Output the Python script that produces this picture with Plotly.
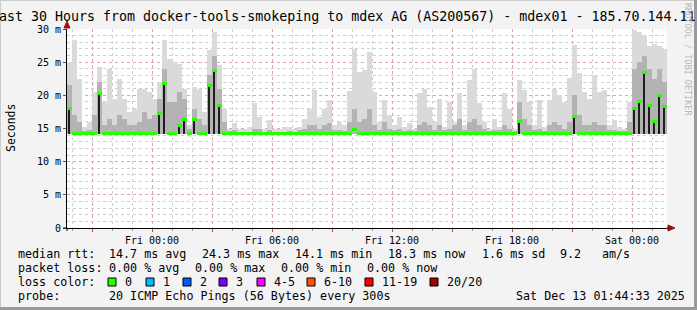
import plotly.graph_objects as go
import pandas as pd

# ---------------- data ----------------
T_START = "2025-12-11 19:45"
T_END = "2025-12-13 01:45"
STEP = "15min"
MIN_RTT = 14.1  # ms, "14.1 ms min"

median_ms = [
    18.0, 14.3, 14.3, 14.3, 14.3, 14.3, 20.2, 14.3, 14.3, 14.3,
    14.3, 14.3, 14.2, 14.2, 14.3, 14.3, 14.3, 14.3, 17.3, 21.8,
    14.3, 14.3, 15.4, 16.3, 14.3, 16.3, 14.3, 14.3, 21.5, 23.8,
    18.5, 14.3, 14.3, 14.3, 14.3, 14.2, 14.2, 14.3, 14.3, 14.2,
    14.3, 14.3, 14.2, 14.3, 14.3, 14.3, 14.3, 14.3, 14.3, 14.3,
    14.3, 14.3, 14.3, 14.3, 14.3, 14.3, 14.3, 14.8, 14.3, 14.3,
    14.3, 14.3, 14.3, 14.3, 14.3, 14.3, 14.3, 14.3, 14.3, 14.3,
    14.3, 14.3, 14.3, 14.3, 14.3, 14.3, 14.3, 14.3, 14.3, 14.3,
    14.3, 14.3, 14.3, 14.3, 14.3, 14.3, 14.3, 14.3, 14.3, 14.3,
    16.0, 14.3, 14.3, 14.3, 14.3, 14.3, 14.3, 14.3, 14.3, 14.3,
    14.3, 16.8, 14.3, 14.3, 14.3, 14.3, 14.3, 14.3, 14.3, 14.3,
    14.3, 14.3, 14.3, 18.0, 19.0, 23.5, 18.5, 16.0, 20.0, 18.3,
]
smoke_mid_ms = [
    21.5, 17.0, 16.0, 14.6, 14.8, 17.0, 22.0, 15.5, 16.5, 15.5,
    17.0, 16.5, 15.5, 15.5, 16.0, 17.5, 16.5, 17.0, 19.5, 24.0,
    19.0, 19.0, 20.5, 19.5, 15.0, 18.0, 16.5, 15.5, 23.0, 26.0,
    21.0, 16.0, 14.6, 14.8, 14.5, 14.5, 14.5, 15.0, 15.0, 14.5,
    14.8, 14.5, 14.5, 14.5, 14.6, 14.5, 14.8, 15.0, 15.5, 15.5,
    15.0, 15.5, 15.8, 14.8, 14.8, 14.6, 16.0, 18.0, 16.0, 16.5,
    18.0, 15.5, 14.8, 16.0, 15.0, 14.8, 15.0, 14.6, 14.8, 14.6,
    15.5, 16.0, 15.5, 14.8, 15.5, 14.8, 15.0, 15.5, 16.5, 14.8,
    16.0, 16.5, 15.5, 15.0, 14.6, 14.8, 14.8, 15.5, 15.0, 14.6,
    19.0, 16.5, 15.5, 14.8, 15.0, 14.6, 15.5, 16.0, 15.5, 15.0,
    16.0, 20.0, 17.0, 15.5, 15.5, 16.0, 15.5, 15.5, 14.8, 14.8,
    14.6, 14.6, 16.0, 24.0, 25.0, 26.0, 24.0, 22.5, 24.0, 22.0,
]
smoke_max_ms = [
    25.0, 28.3, 22.5, 15.2, 16.0, 20.5, 24.2, 19.0, 24.0, 19.5,
    22.5, 19.5, 17.5, 18.0, 21.0, 21.0, 20.5, 19.5, 22.0, 28.3,
    25.5, 25.0, 24.7, 21.0, 15.5, 21.3, 21.0, 17.5, 26.8, 29.5,
    24.5, 18.0, 15.0, 15.8, 14.9, 15.0, 15.2, 18.8, 16.8, 15.0,
    16.3, 15.0, 15.0, 15.2, 15.3, 15.0, 15.3, 16.5, 18.0, 20.8,
    16.8, 18.0, 19.3, 15.5, 16.0, 15.5, 20.6, 27.0, 23.5, 23.8,
    26.6, 20.5, 16.0, 19.3, 17.0, 15.5, 16.8, 15.3, 15.8, 15.0,
    20.3, 21.0, 18.3, 16.0, 19.5, 15.3, 19.0, 16.0, 20.3, 15.5,
    22.3, 24.0, 18.8, 16.0, 15.0, 16.5, 15.3, 20.3, 18.0, 15.0,
    22.3, 20.8, 19.0, 15.5, 19.3, 15.3, 19.3, 21.0, 20.0, 19.0,
    22.6, 27.6, 23.3, 20.5, 19.5, 23.0, 20.5, 20.8, 15.5, 16.3,
    15.3, 15.0, 19.0, 29.8, 29.5, 29.0, 27.5, 27.8, 27.5, 27.0,
]

y_tickvals = [0, 5, 10, 15, 20, 25, 30]
y_ticktext = ["0", "5 m", "10 m", "15 m", "20 m", "25 m", "30 m"]
x_tickvals = ["2025-12-11 21:00", "2025-12-12 00:00", "2025-12-12 03:00",
              "2025-12-12 06:00", "2025-12-12 09:00", "2025-12-12 12:00",
              "2025-12-12 15:00", "2025-12-12 18:00", "2025-12-12 21:00",
              "2025-12-13 00:00"]
x_ticktext = ["", "Fri 00:00", "", "Fri 06:00", "", "Fri 12:00", "",
              "Fri 18:00", "", "Sat 00:00"]

title_text = ("Last 30 Hours from docker-tools-smokeping to mdex AG (AS200567)"
              " - mdex01 - 185.70.144.11")
loss_labels = ["0", "1", "2", "3", "4-5", "6-10", "11-19", "20/20"]
loss_colors = ["#26ff00", "#00b8ff", "#0059ff", "#7e00ff", "#ff00ff",
               "#ff5500", "#ff0000", "#a10000"]

# ---------------- layout geometry (pixels) ----------------
W, H = 697, 310
PL, PR, PT, PB = 67, 667, 29, 228
MONO = "DejaVu Sans Mono"


def px(x):
    return (x - PL) / (PR - PL)


def py(y):
    return (PB - y) / (PB - PT)


step_ms = pd.Timedelta(STEP).total_seconds() * 1000
times = pd.date_range(T_START, periods=len(median_ms), freq=STEP) + pd.Timedelta(STEP) / 2

fig = go.Figure()
fig.add_trace(go.Bar(x=times, y=[m - MIN_RTT for m in smoke_max_ms], base=MIN_RTT,
                     width=step_ms, marker=dict(color="#dadada", line_width=0),
                     hoverinfo="skip"))
fig.add_trace(go.Bar(x=times, y=[m - MIN_RTT for m in smoke_mid_ms], base=MIN_RTT,
                     width=step_ms, marker=dict(color="#b3b3b3", line_width=0),
                     hoverinfo="skip"))
fig.add_trace(go.Bar(x=times, y=[(m - MIN_RTT) if m > 15 else 0 for m in median_ms],
                     base=MIN_RTT, width=step_ms * 0.32,
                     marker=dict(color="#1e1e1e", line_width=0), hoverinfo="skip"))
fig.add_trace(go.Bar(x=times, y=[0.45] * len(median_ms), base=[m - 0.22 for m in median_ms],
                     width=step_ms, marker=dict(color=loss_colors[0], line_width=0),
                     name="median"))

grid_minor = "#cfcfcf"
grid_major = "#e6a3a3"

fig.update_layout(
    width=W, height=H,
    margin=dict(l=PL, r=W - PR, t=PT, b=H - PB),
    paper_bgcolor="#f3f3f3", plot_bgcolor="#ffffff",
    barmode="overlay", bargap=0, showlegend=False,
    font=dict(family=MONO, color="#000000"),
    xaxis=dict(type="date", range=[T_START, T_END], tickmode="array",
               tickvals=x_tickvals, ticktext=x_ticktext,
               tickfont=dict(family=MONO, size=10, color="#000"),
               showgrid=True, gridcolor=grid_major, griddash="dot", gridwidth=1,
               ticks="outside", ticklen=3, tickcolor="#d04040",
               showline=True, linecolor="#000000", linewidth=1,
               zeroline=False, layer="above traces",
               minor=dict(dtick=3600000, tick0="2025-12-11 20:00", showgrid=True,
                          gridcolor=grid_minor, griddash="dot", gridwidth=1,
                          ticks="outside", ticklen=2, tickcolor="#999999")),
    yaxis=dict(range=[0, 30], tickmode="array", tickvals=y_tickvals, ticktext=y_ticktext,
               tickfont=dict(family=MONO, size=10, color="#000"),
               showgrid=True, gridcolor=grid_major, griddash="dot", gridwidth=1,
               ticks="outside", ticklen=3, tickcolor="#555555",
               showline=True, linecolor="#000000", linewidth=1,
               zeroline=False, layer="above traces",
               minor=dict(dtick=1, showgrid=True, gridcolor=grid_minor,
                          griddash="dot", gridwidth=1)),
)

ann = []
shapes = []

# title (centered, overflowing both edges like the original)
ann.append(dict(text=title_text, xref="paper", yref="paper", x=px(343), y=py(17),
                xanchor="center", yanchor="middle", showarrow=False,
                font=dict(family=MONO, size=13.3, color="#000")))
# y-axis title
ann.append(dict(text="Seconds", xref="paper", yref="paper", x=px(11), y=py(128),
                textangle=-90, xanchor="center", yanchor="middle", showarrow=False,
                font=dict(family=MONO, size=11.5, color="#000")))
# rrdtool credit
ann.append(dict(text="RRDTOOL / TOBI OETIKER", xref="paper", yref="paper", x=px(688),
                y=py(59), textangle=90, xanchor="center", yanchor="middle",
                showarrow=False, font=dict(family=MONO, size=8.5, color="#b8b8b8")))

LF = dict(family=MONO, size=11.7, color="#000")


def text(t, x, y):
    ann.append(dict(text=t, xref="paper", yref="paper", x=px(x), y=py(y),
                    xanchor="left", yanchor="middle", showarrow=False, font=LF))


text("median rtt:", 16, 254)
text("14.7 ms avg", 107, 254)
text("24.3 ms max", 200, 254)
text("14.1 ms min", 293, 254)
text("18.3 ms now", 386, 254)
text("1.6 ms sd", 480, 254)
text("9.2", 558, 254)
text("am/s", 600, 254)

text("packet loss:", 16, 268)
text("0.00 % avg", 107, 268)
text("0.00 % max", 193, 268)
text("0.00 % min", 279, 268)
text("0.00 % now", 365, 268)

text("loss color:", 16, 282)
sq_x = [108, 146, 183, 219, 257, 307, 365, 430]
for lbl, col, sx in zip(loss_labels, loss_colors, sq_x):
    shapes.append(dict(type="rect", xref="paper", yref="paper",
                       x0=px(sx), x1=px(sx + 8), y0=py(286), y1=py(278),
                       fillcolor=col, line=dict(color="#000", width=1)))
    text(lbl, sx + 14.5, 282)

text("probe:", 16, 296)
text("20 ICMP Echo Pings (56 Bytes) every 300s", 107, 296)
text("Sat Dec 13 01:44:33 2025", 514, 296)

# axis arrows (dark red)
shapes.append(dict(type="path", xref="paper", yref="paper",
                   path=f"M {px(64)} {py(28)} L {px(70)} {py(28)} L {px(67)} {py(21)} Z",
                   fillcolor="#a01010", line=dict(color="#a01010", width=1)))
shapes.append(dict(type="path", xref="paper", yref="paper",
                   path=f"M {px(668)} {py(225)} L {px(668)} {py(231)} L {px(675)} {py(228)} Z",
                   fillcolor="#a01010", line=dict(color="#a01010", width=1)))
# axis line extensions
shapes.append(dict(type="line", xref="paper", yref="paper", x0=px(667), x1=px(669),
                   y0=py(228), y1=py(228), line=dict(color="#000", width=1)))
shapes.append(dict(type="line", xref="paper", yref="paper", x0=px(67), x1=px(67),
                   y0=py(228), y1=py(231), line=dict(color="#000", width=1)))
shapes.append(dict(type="line", xref="paper", yref="paper", x0=px(63), x1=px(67),
                   y0=py(228), y1=py(228), line=dict(color="#000", width=1)))

# frame
shapes.append(dict(type="line", xref="paper", yref="paper", x0=px(0), x1=px(W),
                   y0=py(0.5), y1=py(0.5), line=dict(color="#cbcbcb", width=1)))
shapes.append(dict(type="line", xref="paper", yref="paper", x0=px(0.5), x1=px(0.5),
                   y0=py(0), y1=py(H), line=dict(color="#cbcbcb", width=1)))
shapes.append(dict(type="line", xref="paper", yref="paper", x0=px(0), x1=px(W),
                   y0=py(H - 1.5), y1=py(H - 1.5), line=dict(color="#999999", width=3)))
shapes.append(dict(type="line", xref="paper", yref="paper", x0=px(W - 1.5), x1=px(W - 1.5),
                   y0=py(0), y1=py(H), line=dict(color="#999999", width=3)))

fig.update_layout(annotations=ann, shapes=shapes)
fig.write_html("out.html")
